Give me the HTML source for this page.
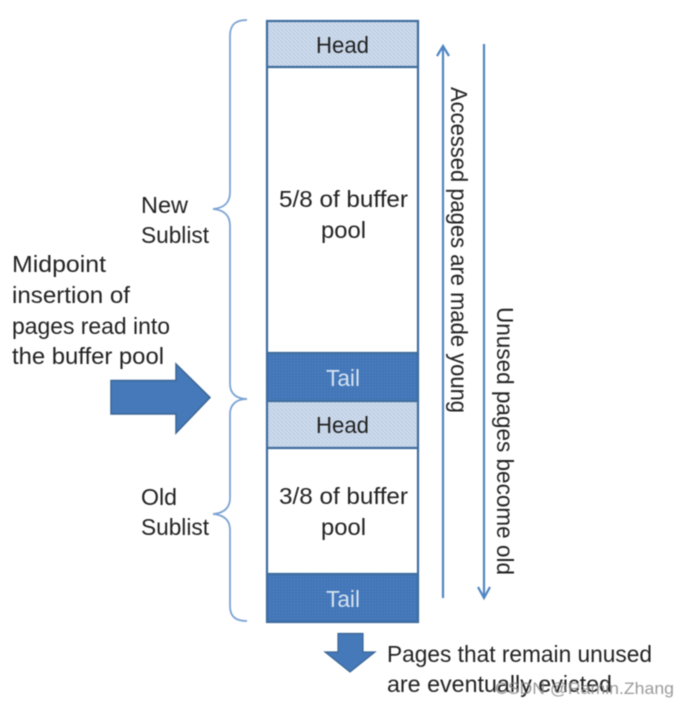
<!DOCTYPE html>
<html>
<head>
<meta charset="utf-8">
<style>
html,body{margin:0;padding:0;background:#fff;width:689px;height:707px;overflow:hidden}
svg{display:block;filter:blur(.45px)}
text{font-family:"Liberation Sans",sans-serif;font-size:23px;fill:#222}
</style>
</head>
<body>
<svg width="689" height="707" viewBox="0 0 689 707" xmlns="http://www.w3.org/2000/svg">
<defs>
<pattern id="lt" width="4" height="4" patternUnits="userSpaceOnUse">
<rect width="4" height="4" fill="#cddaeb"/>
<path d="M0 0L4 4" stroke="#bccde3" stroke-width="1"/>
</pattern>
<pattern id="dk" width="3" height="3" patternUnits="userSpaceOnUse">
<rect width="3" height="3" fill="#4276b8"/>
<rect width="1" height="1" fill="#5b8ac4"/>
</pattern>
</defs>

<!-- main column -->
<rect x="267" y="21" width="151" height="601" fill="#fff"/>
<rect x="267" y="21" width="151" height="46" fill="url(#lt)"/>
<rect x="267" y="353" width="151" height="48" fill="url(#dk)"/>
<rect x="267" y="401" width="151" height="47" fill="url(#lt)"/>
<rect x="267" y="574" width="151" height="48" fill="url(#dk)"/>
<g stroke="#3f6d9f" stroke-width="2.2" fill="none">
<rect x="267" y="21" width="151" height="601"/>
<path d="M267 67H418M267 353H418M267 401H418M267 448H418M267 574H418"/>
</g>

<text x="316" y="53" textLength="53" lengthAdjust="spacingAndGlyphs">Head</text>
<text x="279" y="207" textLength="129" lengthAdjust="spacingAndGlyphs">5/8 of buffer</text>
<text x="321" y="238" textLength="45" lengthAdjust="spacingAndGlyphs">pool</text>
<text x="326" y="386" textLength="34" lengthAdjust="spacingAndGlyphs" style="fill:#d6e2f1">Tail</text>
<text x="316" y="433" textLength="53" lengthAdjust="spacingAndGlyphs">Head</text>
<text x="279" y="504" textLength="129" lengthAdjust="spacingAndGlyphs">3/8 of buffer</text>
<text x="321" y="535" textLength="45" lengthAdjust="spacingAndGlyphs">pool</text>
<text x="326" y="607" textLength="34" lengthAdjust="spacingAndGlyphs" style="fill:#d6e2f1">Tail</text>

<!-- braces -->
<g stroke="#7ba3d3" stroke-width="1.8" fill="none">
<path d="M247 20C236 20 230 24 230 36V192C230 203 224 208 213 209C224 210 230 215 230 226V384C230 394 237 399 247 399"/>
<path d="M247 399C237 399 230 404 230 414V498C230 508 224 513 213 514C224 515 230 520 230 530V606C230 617 236 621 247 621"/>
</g>

<!-- left labels -->
<text x="141" y="213" textLength="47" lengthAdjust="spacingAndGlyphs">New</text>
<text x="141" y="243" textLength="68" lengthAdjust="spacingAndGlyphs">Sublist</text>
<text x="141" y="505" textLength="36" lengthAdjust="spacingAndGlyphs">Old</text>
<text x="141" y="535" textLength="68" lengthAdjust="spacingAndGlyphs">Sublist</text>
<text x="12" y="272" textLength="94" lengthAdjust="spacingAndGlyphs">Midpoint</text>
<text x="12" y="303" textLength="118" lengthAdjust="spacingAndGlyphs">insertion of</text>
<text x="12" y="334" textLength="158" lengthAdjust="spacingAndGlyphs">pages read into</text>
<text x="12" y="364" textLength="152" lengthAdjust="spacingAndGlyphs">the buffer pool</text>

<!-- block arrows -->
<path d="M111 380.500H176V364L210 397.500L176 433V414H111Z" fill="#4679b9" stroke="#3a6595" stroke-width="1.500"/>
<path d="M338 633.500H363V652H375L350 672L325 652H338Z" fill="#4679b9" stroke="#3a6595" stroke-width="1.200"/>

<!-- vertical arrows -->
<g stroke="#4f85c2" stroke-width="2.200" fill="none">
<path d="M443 598V47"/>
<path d="M437 56L443 46L449 56"/>
<path d="M484 44V597"/>
<path d="M478 587L484 598L490 587"/>
</g>

<!-- rotated labels -->
<text transform="translate(451 87) rotate(90)" textLength="326" lengthAdjust="spacingAndGlyphs">Accessed pages are made young</text>
<text transform="translate(497 307) rotate(90)" textLength="268" lengthAdjust="spacingAndGlyphs">Unused pages become old</text>

<!-- bottom text -->
<text x="387" y="662" textLength="265" lengthAdjust="spacingAndGlyphs">Pages that remain unused</text>
<text x="387" y="692" textLength="225" lengthAdjust="spacingAndGlyphs">are eventually evicted</text>
<text x="495" y="694" textLength="179" lengthAdjust="spacingAndGlyphs" style="font-size:17px;fill:#8a8a8a;fill-opacity:.85">CSDN @Ramin.Zhang</text>
</svg>
</body>
</html>
